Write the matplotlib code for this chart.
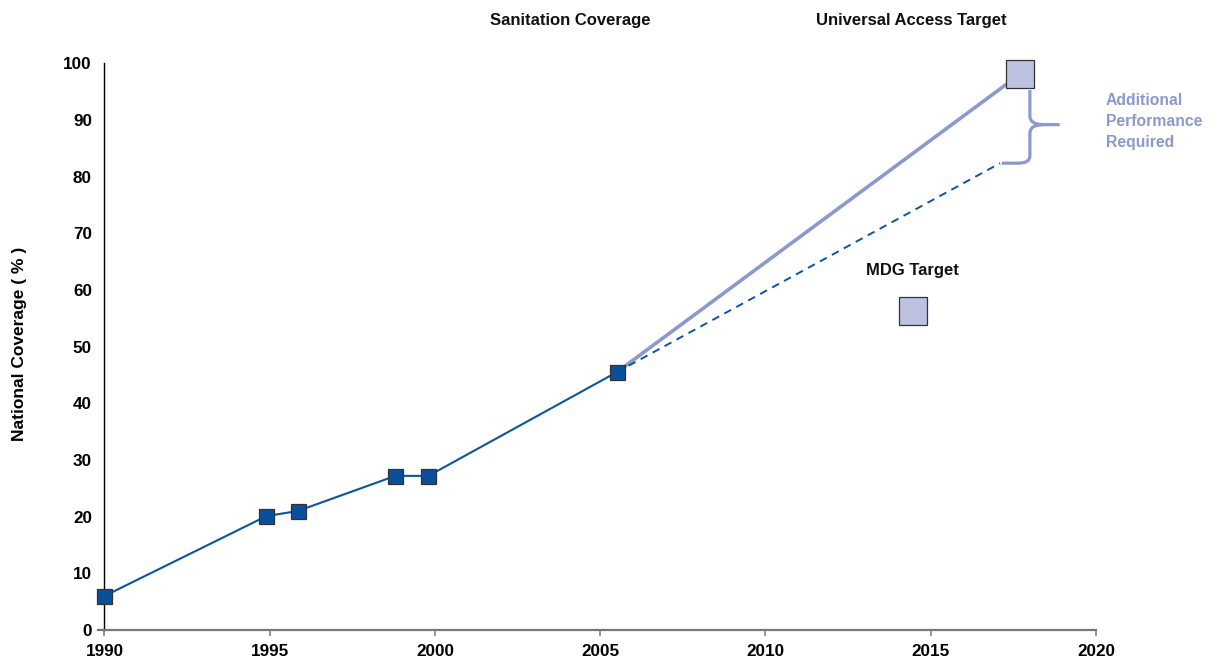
import numpy as np
import matplotlib.pyplot as plt
from matplotlib.path import Path
from matplotlib.patches import PathPatch

plt.rcParams['font.family'] = ['Liberation Sans', 'DejaVu Sans']
plt.rcParams['font.weight'] = 'bold'

# survey points (year, national coverage %)
years = [1990, 1994.9, 1995.85, 1998.8, 1999.8, 2005.5]
coverage = [6.0, 20.1, 21.0, 27.2, 27.2, 45.5]

# projections from the last survey
trend_end = (2017.1, 82.4)          # current trend
ua_target = (2017.7, 98.1)          # universal access target
mdg_target = (2014.45, 56.3)        # MDG target

xticks = [1990, 1995, 2000, 2005, 2010, 2015, 2020]
yticks = [0, 10, 20, 30, 40, 50, 60, 70, 80, 90, 100]

dark_blue = '#0b55a0'
light_blue = '#8c99cc'
target_face = '#bcc1e0'

fig = plt.figure(figsize=(12.19, 6.66), dpi=100)
ax = fig.add_axes([0.0857, 0.0541, 0.8134, 0.8506])

# projection lines
ax.plot([years[-1], ua_target[0]], [coverage[-1], ua_target[1]],
        color=light_blue, lw=2.6, zorder=2, solid_capstyle='butt')
ax.plot([years[-1], trend_end[0]], [coverage[-1], trend_end[1]],
        color=dark_blue, lw=1.4, ls=(0, (4, 3)), zorder=2)

# observed coverage
ax.plot(years, coverage, color=dark_blue, lw=1.5, marker='s', ms=10.8,
        mfc='#0a4f9c', mec='#333333', mew=0.9, zorder=4, clip_on=False)

# target markers
ax.plot([ua_target[0]], [ua_target[1]], marker='s', ms=20.5, mfc=target_face,
        mec='#333333', mew=0.9, ls='none', zorder=5, clip_on=False)
ax.plot([mdg_target[0]], [mdg_target[1]], marker='s', ms=20.5, mfc=target_face,
        mec='#333333', mew=0.9, ls='none', zorder=5, clip_on=False)

# curly brace between trend and target
bx, tip = 2018.0, 2018.9
top, mid, bot = 95.3, 89.2, 82.4
verts = [(bx, top), (bx, mid + 1.5), (bx, mid), (bx + 0.4, mid), (tip, mid),
         (bx + 0.4, mid), (bx, mid), (bx, mid - 1.5), (bx, bot + 1.3),
         (bx, bot), (bx - 0.35, bot), (trend_end[0] + 0.05, bot)]
codes = [Path.MOVETO, Path.LINETO, Path.CURVE3, Path.CURVE3, Path.LINETO,
         Path.MOVETO, Path.CURVE3, Path.CURVE3, Path.LINETO,
         Path.CURVE3, Path.CURVE3, Path.LINETO]
brace = PathPatch(Path(verts, codes), fill=False, ec=light_blue, lw=2.3,
                  clip_on=False, zorder=3)
ax.add_patch(brace)

ax.text(2020.3, 89.8, 'Additional\nPerformance\nRequired', color=light_blue,
        fontsize=11.3, fontweight='bold', ha='left', va='center',
        linespacing=1.5, clip_on=False)

ax.text(2004.1, 107.6, 'Sanitation Coverage', fontsize=12, fontweight='bold',
        ha='center', va='center', color='#111111')
ax.text(2014.4, 107.6, 'Universal Access Target', fontsize=12,
        fontweight='bold', ha='center', va='center', color='#111111')
ax.text(2014.45, 63.5, 'MDG Target', fontsize=12, fontweight='bold',
        ha='center', va='center', color='#111111')

ax.set_xlim(1990, 2020)
ax.set_ylim(0, 100)
ax.set_xticks(xticks)
ax.set_yticks(yticks)
ax.tick_params(axis='x', length=4.3, width=1.1, color='#777777', pad=6,
               labelsize=12.3)
ax.tick_params(axis='y', length=0, pad=9, labelsize=12.3)
for lab in ax.get_xticklabels() + ax.get_yticklabels():
    lab.set_fontweight('bold')

for s in ['top', 'right']:
    ax.spines[s].set_visible(False)
ax.spines['left'].set_color('black')
ax.spines['left'].set_linewidth(1.0)
ax.spines['bottom'].set_color('#777777')
ax.spines['bottom'].set_linewidth(1.6)
# short stub of the x axis left of the y axis
ax.plot([1989.8, 1990], [0, 0], color='#777777', lw=1.6, clip_on=False,
        zorder=1)

ax.set_ylabel('National Coverage ( % )', fontsize=12.5, fontweight='bold')
ax.yaxis.set_label_coords(-0.078, 0.505)

fig.savefig('out.png', dpi=100)
